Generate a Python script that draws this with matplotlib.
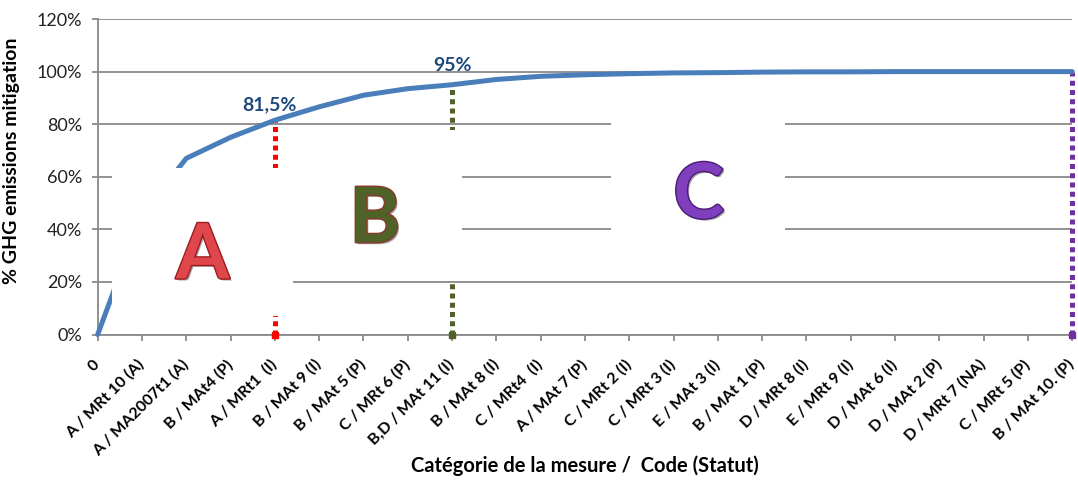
import matplotlib
matplotlib.use("Agg")
import matplotlib.pyplot as plt
import matplotlib.patheffects as pe
from matplotlib import font_manager
from matplotlib.patches import Rectangle
from matplotlib.ticker import FuncFormatter

# pick a humanist sans that actually ships a bold face
bold_families = {f.name for f in font_manager.fontManager.ttflist
                 if f.weight in (700, 'bold', 'Bold') or str(f.weight) == '700'}
family = next((n for n in ['Lato', 'Open Sans', 'Noto Sans', 'Roboto'] if n in bold_families),
              'DejaVu Sans')
plt.rcParams['font.family'] = [family, 'DejaVu Sans']

# Cumulative GHG mitigation by measure (Pareto curve)
categories = ["0", "A / MRt 10 (A)", "A / MA2007t1 (A)", "B / MAt4 (P)", "A / MRt1  (I)",
              "B / MAt 9 (I)", "B / MAt 5 (P)", "C / MRt 6 (P)", "B,D / MAt 11 (I)",
              "B / MAt 8 (I)", "C / MRt4  (I)", "A / MAt 7 (P)", "C / MRt 2 (I)",
              "C / MRt 3 (I)", "E / MAt 3 (I)", "B / MAt 1 (P)", "D / MRt 8 (I)",
              "E / MRt 9 (I)", "D / MAt 6 (I)", "D / MAt 2 (P)", "D / MRt 7 (NA)",
              "C / MRt 5 (P)", "B / MAt 10. (P)"]
cumulative = [0, 45.5, 67.0, 75.0, 81.5, 86.6, 91.0, 93.5, 95.0, 97.0, 98.2, 98.8,
              99.2, 99.5, 99.6, 99.8, 99.9, 99.9, 100, 100, 100, 100, 100]

# class boundaries: (category index, colour)
cut_idx = [4, 8, 22]
cut_colors = ["#ff0000", "#4f6228", "#7030a0"]
cut_labels = ["81,5%", "95%", None]
cut_label_offsets = [(-4, 5), (0, 8), (0, 0)]

# class letters
zone_letters = ["A", "B", "C"]
zone_colors = ["#e0474c", "#4f6228", "#7f3fbf"]
zone_edges = ["#9c1c20", "#8b3a2a", "#4b1d73"]

blue = "#4a7ebb"
grid_c = "#898989"
label_c = "#1f497d"

fig = plt.figure(figsize=(10.78, 4.8), dpi=100)
ax = fig.add_axes([0.0906, 0.3031, 0.904, 0.6573])

x = list(range(len(categories)))

# dotted boundary lines from axis up to the curve
for i, c in zip(cut_idx, cut_colors):
    ax.plot([i, i], [0, cumulative[i]], color=c, lw=3.6, dashes=(1, 0.85),
            dash_capstyle='butt', zorder=3, clip_on=False)
    ax.plot([i], [0], marker='s', ms=4, color=c, zorder=3, clip_on=False)

ax.plot(x, cumulative, color=blue, lw=3.6, solid_capstyle='round', zorder=4, clip_on=False)

for i, t, off in zip(cut_idx, cut_labels, cut_label_offsets):
    if t:
        ax.annotate(t, (i, cumulative[i]), xytext=off, textcoords='offset points',
                    ha='center', va='bottom', fontsize=14, fontweight='bold',
                    color=label_c, zorder=6)

# white panels behind the class letters
panels = [(0.32, 7.0, 4.41, 63.3), (4.41, 20.7, 8.22, 77.8), (11.59, 28.0, 15.51, 90.0)]
for x0, y0, x1, y1 in panels:
    ax.add_patch(Rectangle((x0, y0), x1 - x0, y1 - y0, facecolor='white',
                           edgecolor='none', zorder=5))

letter_pos = [(2.37, 29.7), (6.26, 43.5), (13.57, 52.7)]
for (lx, ly), t, c, e in zip(letter_pos, zone_letters, zone_colors, zone_edges):
    ax.text(lx, ly, t, ha='center', va='center', fontsize=55, fontweight='bold',
            color=c, zorder=7,
            path_effects=[pe.withSimplePatchShadow(offset=(1.5, -1.5), shadow_rgbFace='black', alpha=0.35),
                          pe.withStroke(linewidth=2, foreground=e)])

ax.set_xlim(0, len(categories) - 1)
ax.set_ylim(0, 120)
ax.set_yticks(range(0, 121, 20))
ax.yaxis.set_major_formatter(FuncFormatter(lambda v, p: f"{v:.0f}%"))
ax.set_xticks(x)
ax.set_xticklabels(categories, rotation=45, ha='right', va='center',
                   rotation_mode='anchor', fontsize=11.5, fontweight='bold')
ax.tick_params(axis='x', length=4, width=1.3, color=grid_c, pad=16)
ax.tick_params(axis='y', length=4, width=1.3, color=grid_c, pad=7, labelsize=13,
               labelcolor='#222222')

ax.grid(axis='y', color=grid_c, lw=1.3, zorder=0)
ax.set_axisbelow(True)
for s in ['top', 'right']:
    ax.spines[s].set_visible(False)
for s in ['left', 'bottom']:
    ax.spines[s].set_color(grid_c)
    ax.spines[s].set_linewidth(1.3)

ax.set_ylabel("% GHG emissions mitigation", fontsize=14, fontweight='bold')
ax.yaxis.set_label_coords(-0.0796, 0.55)
ax.set_xlabel("Catégorie de la mesure /  Code (Statut)", fontsize=14.5, fontweight='bold',
              va='center')
ax.xaxis.set_label_coords(0.5, -0.417)

fig.savefig("out.png", dpi=100)
